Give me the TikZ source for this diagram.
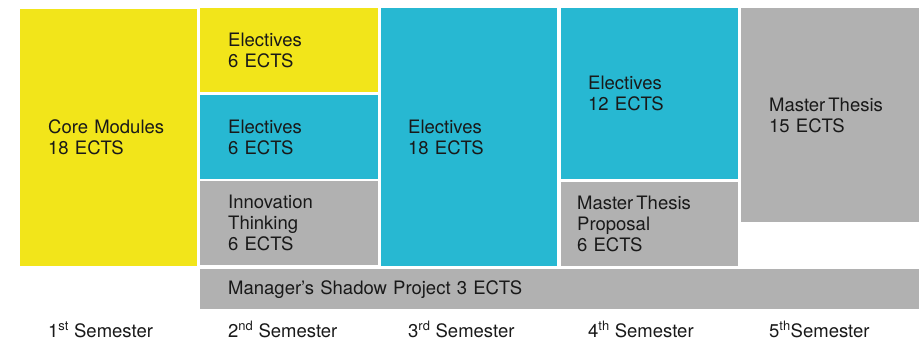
\documentclass[tikz,border=0pt]{standalone}
\usepackage{fontspec}
\setmainfont{TeX Gyre Heros}
\usetikzlibrary{positioning}

\definecolor{coreyellow}{RGB}{242,229,26}
\definecolor{electcyan}{RGB}{39,184,210}
\definecolor{thesisgray}{RGB}{177,177,177}

\tikzset{
  module/.style n args={3}{anchor=north west, inner ysep=0pt,
    minimum width=#1pt, minimum height=#2pt, inner xsep=#3pt,
    text width=#1pt-2*#3pt, align=left, text=black!90,
    font=\fontsize{18.5}{21}\selectfont},
  semester/.style={anchor=base west, inner sep=0pt, text=black!90,
    font=\fontsize{18.5}{21}\selectfont},
}

\begin{document}
\begin{tikzpicture}[x=1pt,y=-1pt]
\useasboundingbox (0,0) rectangle (919,341);
% 1st semester
\node[module={177}{257}{28}, fill=coreyellow] (core) at (20,9) {Core Modules\\18 ECTS};
% 2nd semester
\node[module={178}{84}{28}, fill=coreyellow] (elect2a) at (200,8) {Electives\\6 ECTS};
\node[module={178}{84}{28}, fill=electcyan] (elect2b) at (200,95) {Electives\\6 ECTS};
\node[module={178}{84}{28}, fill=thesisgray] (innov) at (200,181) {Innovation\\Thinking\\6 ECTS};
% 3rd semester
\node[module={176}{258}{27}, fill=electcyan] (elect3) at (381,8) {Electives\\18 ECTS};
% 4th semester
\node[module={177}{171}{27}, fill=electcyan] (elect4) at (561,8) {Electives\\12 ECTS};
\node[module={177}{84}{16}, fill=thesisgray] (proposal) at (561,182) {Master\,Thesis\\Proposal\\6 ECTS};
% 5th semester
\node[module={178}{214}{28}, fill=thesisgray] (thesis) at (741,8) {Master\,Thesis\\15 ECTS};
% project across semesters 2-5
\node[module={719}{40}{28}, fill=thesisgray] (shadow) at (200,269) {Manager’s Shadow Project 3 ECTS};
% semester labels
\node[semester] (sem1) at (48,337) {1\textsuperscript{st} Semester};
\node[semester] (sem2) at (228,337) {2\textsuperscript{nd} Semester};
\node[semester] (sem3) at (408,337) {3\textsuperscript{rd} Semester};
\node[semester] (sem4) at (588,337) {4\textsuperscript{th} Semester};
\node[semester] (sem5) at (769,337) {5\textsuperscript{th}Semester};
\end{tikzpicture}
\end{document}
